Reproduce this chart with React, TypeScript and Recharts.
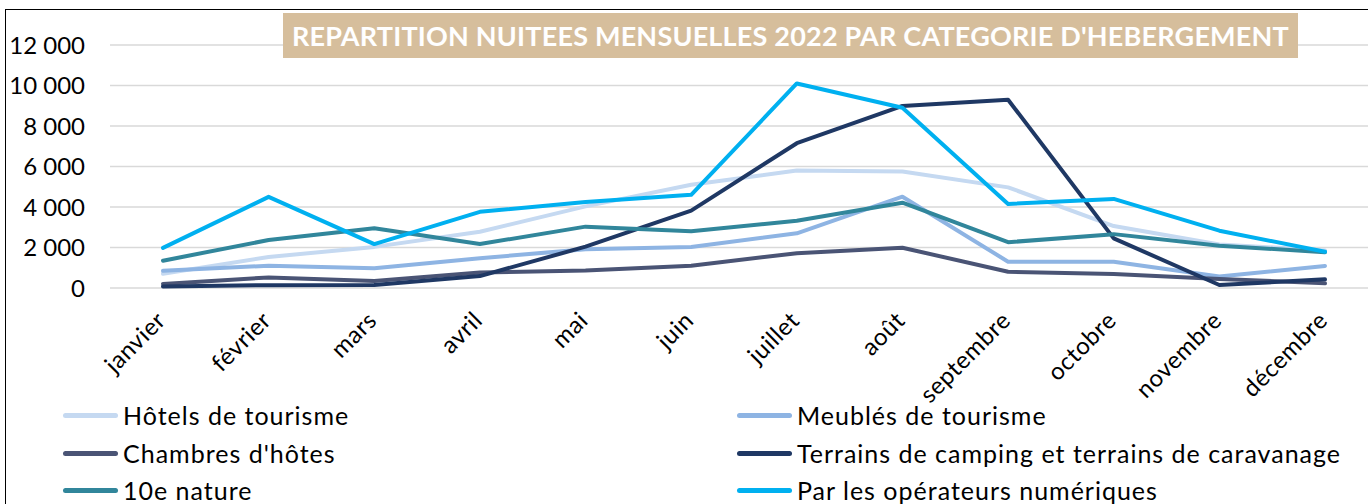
import React from 'react';
import { LineChart, Line, XAxis, YAxis, CartesianGrid, Legend } from 'recharts';

const MONTHS = [
  'janvier', 'février', 'mars', 'avril', 'mai', 'juin',
  'juillet', 'août', 'septembre', 'octobre', 'novembre', 'décembre',
];

const HOTELS = [700, 1530, 2030, 2780, 4030, 5100, 5800, 5750, 4970, 3060, 2150, 1850];
const MEUBLES = [850, 1100, 970, 1470, 1910, 2030, 2700, 4510, 1300, 1300, 570, 1090];
const CHAMBRES = [200, 520, 350, 760, 860, 1100, 1720, 1990, 800, 690, 450, 230];
const CAMPING = [80, 140, 150, 590, 2040, 3820, 7150, 8990, 9300, 2450, 150, 430];
const NATURE = [1350, 2370, 2950, 2170, 3030, 2800, 3320, 4210, 2260, 2660, 2090, 1770];
const OPERATEURS = [1980, 4500, 2170, 3760, 4250, 4600, 10100, 8900, 4150, 4400, 2830, 1790];

const Y_TICKS = [0, 2000, 4000, 6000, 8000, 10000, 12000];

const SERIES = [
  { key: 'hotels', name: 'Hôtels de tourisme', color: '#C5D9F1', values: HOTELS },
  { key: 'meubles', name: 'Meublés de tourisme', color: '#8EB4E3', values: MEUBLES },
  { key: 'chambres', name: "Chambres d'hôtes", color: '#4A5475', values: CHAMBRES },
  { key: 'camping', name: 'Terrains de camping et terrains de caravanage', color: '#1F3864', values: CAMPING },
  { key: 'nature', name: '10e nature', color: '#31869B', values: NATURE },
  { key: 'operateurs', name: 'Par les opérateurs numériques', color: '#00B0F0', values: OPERATEURS },
];

const data = MONTHS.map((month, i) => {
  const row: Record<string, string | number> = { month };
  SERIES.forEach((s) => {
    row[s.key] = s.values[i];
  });
  return row;
});

const FONT = 'Lato, "Open Sans", sans-serif';

const formatThousands = (v: number) =>
  String(v).replace(/\B(?=(\d{3})+(?!\d))/g, ' ');

const MonthTick = (props: any) => {
  const { x, y, payload } = props;
  return (
    <g transform={`translate(${x + 4},${y + 34})`}>
      <text
        textAnchor="end"
        transform="rotate(-45)"
        fontFamily={FONT}
        fontSize={24}
        letterSpacing={0.5}
        fill="#000"
      >
        {payload.value}
      </text>
    </g>
  );
};

// keep the legend in series order (recharts 3 sorts by name otherwise)
const renderLegend = (props: any) => {
  const payload = [...props.payload].sort(
    (a: any, b: any) =>
      SERIES.findIndex((s) => s.name === a.value) -
      SERIES.findIndex((s) => s.name === b.value)
  );
  const cols = [63, 737];
  const rows = [415, 453, 490];
  return (
    <div style={{ position: 'relative', width: 1368, height: 504 }}>
      {payload.map((entry: any, i: number) => (
        <div
          key={entry.value}
          style={{
            position: 'absolute',
            left: cols[i % 2],
            top: rows[Math.floor(i / 2)] - 16,
            height: 32,
            display: 'flex',
            alignItems: 'center',
            whiteSpace: 'nowrap',
          }}
        >
          <span
            style={{
              display: 'inline-block',
              width: 55,
              height: 5,
              borderRadius: 3,
              background: entry.color,
              marginRight: 5,
            }}
          />
          <span style={{ fontFamily: FONT, fontSize: 25, letterSpacing: 1, color: '#000' }}>
            {entry.value}
          </span>
        </div>
      ))}
    </div>
  );
};

export default function App() {
  return (
    <div
      style={{
        position: 'fixed',
        left: 0,
        top: 0,
        width: 1368,
        height: 504,
        overflow: 'hidden',
        background: '#fff',
      }}
    >
      <div
        style={{
          position: 'absolute',
          left: 5,
          top: 9,
          width: 2000,
          height: 1000,
          border: '1.5px solid #000',
        }}
      />
      <div style={{ position: 'absolute', left: 0, top: 0 }}>
        <LineChart
          width={1400}
          height={504}
          data={data}
          margin={{ top: 45, right: 22, bottom: 0, left: 10 }}
        >
          <CartesianGrid
            vertical={false}
            stroke="#D9D9D9"
            strokeWidth={1.5}
          />
          <XAxis
            dataKey="month"
            height={216}
            padding={{ left: 53, right: 53 }}
            axisLine={false}
            tickLine={false}
            tickSize={0}
            tickMargin={0}
            interval={0}
            tick={<MonthTick />}
          />
          <YAxis
            width={100}
            domain={[0, 12000]}
            ticks={Y_TICKS}
            axisLine={false}
            tickLine={false}
            tickSize={0}
            tickMargin={25}
            tickFormatter={formatThousands}
            tick={{ fill: '#000', fontSize: 24, fontFamily: FONT }}
          />
          <Legend
            layout="horizontal"
            verticalAlign="middle"
            align="center"
            content={renderLegend}
            wrapperStyle={{ position: 'absolute', left: 0, top: 0, width: 1368, height: 504, pointerEvents: 'none' }}
          />
          {SERIES.map((s) => (
            <Line
              key={s.key}
              type="linear"
              dataKey={s.key}
              name={s.name}
              stroke={s.color}
              strokeWidth={4}
              strokeLinejoin="round"
              strokeLinecap="round"
              dot={false}
              activeDot={false}
              isAnimationActive={false}
            />
          ))}
        </LineChart>
      </div>
      <div
        style={{
          position: 'absolute',
          left: 283,
          top: 13,
          width: 1015,
          height: 45,
          background: '#D6BE9C',
          color: '#fff',
          fontFamily: FONT,
          fontWeight: 700,
          fontSize: 27,
          letterSpacing: 0.2,
          display: 'flex',
          alignItems: 'center',
          justifyContent: 'center',
          whiteSpace: 'nowrap',
        }}
      >
        REPARTITION NUITEES MENSUELLES 2022 PAR CATEGORIE D'HEBERGEMENT
      </div>
    </div>
  );
}
